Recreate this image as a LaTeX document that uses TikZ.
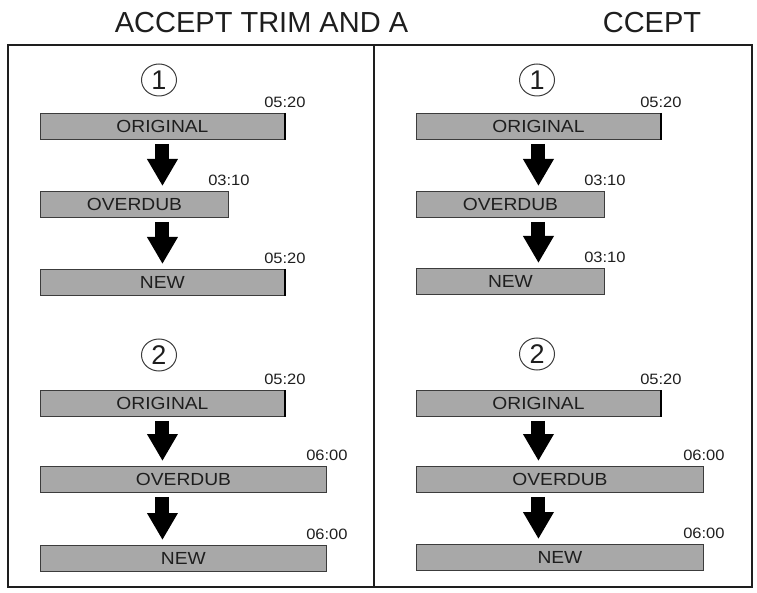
\documentclass[tikz,border=0pt]{standalone}
\usepackage{fontspec}
\setmainfont{Liberation Sans}
\newfontfamily\widefont[FakeStretch=1.1]{Liberation Sans}
\usetikzlibrary{arrows.meta,shapes.geometric}
\definecolor{barfill}{HTML}{A8A8A8}
\definecolor{barline}{HTML}{3C3C3C}
\definecolor{txt}{HTML}{1E1E1E}
\tikzset{
  bar/.style={draw=barline, fill=barfill, line width=0.9pt, minimum height=26pt,
    inner sep=0pt, anchor=north west, text=txt, font=\widefont\fontsize{17.5}{17.5}\selectfont},
  tlabel/.style={anchor=base, inner sep=0pt, text=txt, font=\widefont\fontsize{15}{15}\selectfont},
  edge/.style={line width=2.4pt, draw=black},
  num/.style={ellipse, draw=barline, line width=1pt, minimum width=35pt, minimum height=32pt, inner sep=0pt,
    text=txt, font=\fontsize{27}{27}\selectfont},
  down/.style={-{Triangle[width=29pt,length=27pt]}, line width=14pt, draw=black},
  frame/.style={line width=2.2pt, draw=txt},
  title/.style={anchor=base, inner sep=0pt, text=txt, font=\fontsize{29}{29}\selectfont}
}
\begin{document}
\begin{tikzpicture}[x=1pt,y=-1pt]
\useasboundingbox (0,0) rectangle (757,593);
% titles
\node[title] (ttl) at (261.5,33) {ACCEPT TRIM AND A};
\node[title] (ttr) at (652,33) {CCEPT};
% frame
\draw[frame] (8,45) rectangle (752,587);
\draw[frame] (374,45) -- (374,587);

% ---------- left panel ----------
\node[num] (nl1) at (159,80) {1};
\node[bar, minimum width=244pt] (l1o) at (40,113) {ORIGINAL};
\node[bar, minimum width=188pt] (l1v) at (40,191) {OVERDUB};
\node[bar, minimum width=244pt] (l1n) at (40,269) {NEW};
\draw[edge] (l1o.north east) -- (l1o.south east);
\draw[edge] (l1n.north east) -- (l1n.south east);
\node[tlabel] at ([yshift=5.5pt]l1o.north east) {05:20};
\node[tlabel] at ([yshift=5.5pt]l1v.north east) {03:10};
\node[tlabel] at ([yshift=5.5pt]l1n.north east) {05:20};
\draw[down] ([yshift=-4pt]l1o.south) -- ([yshift=5pt]l1o.south |- l1v.north);
\draw[down] ([yshift=-4pt]l1o.south |- l1v.south) -- ([yshift=5pt]l1o.south |- l1n.north);

\node[num] (nl2) at (159,355) {2};
\node[bar, minimum width=244pt] (l2o) at (40,390) {ORIGINAL};
\node[bar, minimum width=286pt] (l2v) at (40,466) {OVERDUB};
\node[bar, minimum width=286pt] (l2n) at (40,545) {NEW};
\draw[edge] (l2o.north east) -- (l2o.south east);
\node[tlabel] at ([yshift=5.5pt]l2o.north east) {05:20};
\node[tlabel] at ([yshift=5.5pt]l2v.north east) {06:00};
\node[tlabel] at ([yshift=5.5pt]l2n.north east) {06:00};
\draw[down] ([yshift=-4pt]l2o.south) -- ([yshift=5pt]l2o.south |- l2v.north);
\draw[down] ([yshift=-4pt]l2o.south |- l2v.south) -- ([yshift=5pt]l2o.south |- l2n.north);

% ---------- right panel ----------
\node[num] (nr1) at (537,80) {1};
\node[bar, minimum width=244pt] (r1o) at (416,113) {ORIGINAL};
\node[bar, minimum width=188pt] (r1v) at (416,191) {OVERDUB};
\node[bar, minimum width=188pt] (r1n) at (416,268) {NEW};
\draw[edge] (r1o.north east) -- (r1o.south east);
\node[tlabel] at ([yshift=5.5pt]r1o.north east) {05:20};
\node[tlabel] at ([yshift=5.5pt]r1v.north east) {03:10};
\node[tlabel] at ([yshift=5.5pt]r1n.north east) {03:10};
\draw[down] ([yshift=-4pt]r1o.south) -- ([yshift=5pt]r1o.south |- r1v.north);
\draw[down] ([yshift=-4pt]r1o.south |- r1v.south) -- ([yshift=5pt]r1o.south |- r1n.north);

\node[num] (nr2) at (537,354) {2};
\node[bar, minimum width=244pt] (r2o) at (416,390) {ORIGINAL};
\node[bar, minimum width=287pt] (r2v) at (416,466) {OVERDUB};
\node[bar, minimum width=287pt] (r2n) at (416,544) {NEW};
\draw[edge] (r2o.north east) -- (r2o.south east);
\node[tlabel] at ([yshift=5.5pt]r2o.north east) {05:20};
\node[tlabel] at ([yshift=5.5pt]r2v.north east) {06:00};
\node[tlabel] at ([yshift=5.5pt]r2n.north east) {06:00};
\draw[down] ([yshift=-4pt]r2o.south) -- ([yshift=5pt]r2o.south |- r2v.north);
\draw[down] ([yshift=-4pt]r2o.south |- r2v.south) -- ([yshift=5pt]r2o.south |- r2n.north);
\end{tikzpicture}
\end{document}
